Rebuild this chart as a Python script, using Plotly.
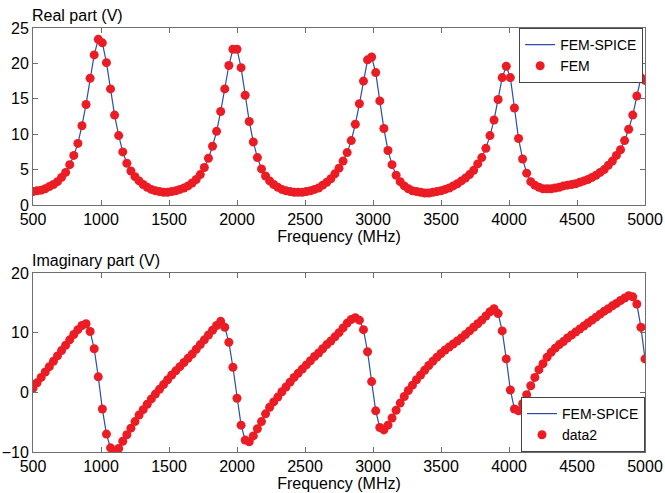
import plotly.graph_objects as go
from plotly.subplots import make_subplots

freq_mhz = list(range(500, 5001, 30))

real_v = [1.9, 2.0, 2.1, 2.3, 2.6, 2.9, 3.3, 3.9, 4.6, 5.7,
          7.0, 8.7, 11.2, 14.2, 17.9, 21.2, 23.4, 22.9, 20.1, 16.4,
          12.7, 9.8, 7.5, 5.9, 4.8, 4.0, 3.4, 2.9, 2.5, 2.2,
          2.0, 1.9, 1.8, 1.8, 1.9, 2.0, 2.2, 2.4, 2.7, 3.1,
          3.6, 4.3, 5.3, 6.6, 8.3, 10.4, 13.2, 16.4, 19.7, 22.0,
          22.0, 19.4, 15.5, 11.8, 8.9, 6.7, 5.1, 4.1, 3.4, 2.9,
          2.5, 2.2, 2.0, 1.9, 1.8, 1.8, 1.8, 1.9, 2.0, 2.2,
          2.4, 2.8, 3.2, 3.7, 4.4, 5.2, 6.2, 7.4, 9.1, 11.4,
          14.3, 17.5, 20.5, 20.9, 18.7, 14.7, 10.8, 7.7, 5.7, 4.2,
          3.3, 2.7, 2.3, 2.0, 1.9, 1.8, 1.7, 1.7, 1.8, 1.9,
          2.0, 2.2, 2.4, 2.7, 3.0, 3.4, 3.8, 4.3, 4.9, 5.8,
          6.7, 8.0, 9.8, 12.0, 14.9, 18.0, 19.6, 18.0, 13.7, 9.4,
          6.5, 4.5, 3.3, 2.8, 2.5, 2.3, 2.3, 2.3, 2.4, 2.5,
          2.7, 2.8, 2.9, 3.0, 3.2, 3.4, 3.6, 3.9, 4.2, 4.6,
          5.0, 5.6, 6.2, 7.0, 7.8, 9.1, 10.7, 12.7, 15.4, 18.0,
          17.6]

imag_v = [0.7, 1.6, 2.5, 3.4, 4.3, 5.2, 6.1, 7.0, 7.9, 8.8,
          9.7, 10.5, 11.2, 11.5, 10.2, 7.3, 2.6, -2.8, -7.0, -9.3,
          -10.0, -9.4, -8.2, -7.1, -6.0, -4.9, -3.8, -2.9, -2.0, -1.1,
          -0.3, 0.5, 1.3, 2.1, 2.9, 3.6, 4.3, 5.0, 5.7, 6.4,
          7.2, 8.0, 8.8, 9.6, 10.4, 11.2, 11.9, 10.9, 8.4, 4.2,
          -1.0, -5.5, -8.0, -8.3, -7.3, -6.1, -4.9, -3.6, -2.5, -1.6,
          -0.8, 0.1, 0.9, 1.7, 2.5, 3.2, 3.9, 4.6, 5.3, 6.0,
          6.6, 7.3, 8.0, 8.6, 9.3, 10.0, 10.8, 11.6, 12.2, 12.5,
          12.1, 10.5, 6.8, 1.8, -3.1, -5.9, -6.3, -5.5, -4.3, -3.0,
          -1.8, -0.7, 0.3, 1.2, 2.1, 2.9, 3.7, 4.5, 5.2, 5.9,
          6.5, 7.1, 7.6, 8.1, 8.6, 9.1, 9.7, 10.3, 10.9, 11.5,
          12.1, 12.8, 13.5, 14.0, 13.2, 10.3, 5.6, 0.4, -2.8, -3.1,
          -1.9, -0.4, 1.1, 2.5, 3.8, 4.8, 5.9, 6.7, 7.4, 8.0,
          8.5, 9.1, 9.6, 10.1, 10.6, 11.1, 11.6, 12.1, 12.6, 13.1,
          13.6, 14.0, 14.5, 14.9, 15.4, 15.8, 16.2, 16.0, 14.8, 10.9,
          5.6]

x_ticks = [500, 1000, 1500, 2000, 2500, 3000, 3500, 4000, 4500, 5000]
real_ticks = [0, 5, 10, 15, 20, 25]
imag_ticks = [-10, 0, 10, 20]

RED = "#EC1C24"
BLUE = "#2a4ea8"
AXC = "#6e6e6e"
FONT = "Liberation Sans, Arial, sans-serif"

fig = make_subplots(rows=2, cols=1, vertical_spacing=0.1)

fig.add_trace(go.Scatter(x=freq_mhz, y=real_v, mode="lines", name="FEM-SPICE",
                         line=dict(color=BLUE, width=1.2), legend="legend"), row=1, col=1)
fig.add_trace(go.Scatter(x=freq_mhz, y=real_v, mode="markers", name="FEM",
                         marker=dict(color=RED, size=9, line=dict(width=0)),
                         legend="legend"), row=1, col=1)
fig.add_trace(go.Scatter(x=freq_mhz, y=imag_v, mode="lines", name="FEM-SPICE",
                         line=dict(color=BLUE, width=1.2), legend="legend2"), row=2, col=1)
fig.add_trace(go.Scatter(x=freq_mhz, y=imag_v, mode="markers", name="data2",
                         marker=dict(color=RED, size=9, line=dict(width=0)),
                         legend="legend2"), row=2, col=1)

axis_common = dict(showline=True, linecolor=AXC, linewidth=1, mirror="ticks",
                   ticks="inside", ticklen=5, tickcolor=AXC, showgrid=False,
                   zeroline=False, automargin=False,
                   tickfont=dict(size=16, color="black", family=FONT))

top_dom = [(452 - 205) / 424, 1.0]
bot_dom = [0.0, (452 - 273) / 424]

legend_common = dict(xanchor="right", bordercolor="#444444", borderwidth=1,
                     bgcolor="white", font=dict(size=14, family=FONT),
                     tracegroupgap=0, itemwidth=30)

fig.update_layout(
    width=665, height=493,
    margin=dict(l=33, r=20, t=28, b=41),
    paper_bgcolor="white", plot_bgcolor="white",
    font=dict(family=FONT, size=16, color="black"),
    showlegend=True,
    xaxis=dict(axis_common, range=[500, 5000], tickvals=x_ticks, ticklabelstandoff=0,
               title=dict(text="Frequency (MHz)", standoff=0, font=dict(size=16))),
    yaxis=dict(axis_common, range=[0, 25], tickvals=real_ticks, domain=top_dom),
    xaxis2=dict(axis_common, range=[500, 5000], tickvals=x_ticks, ticklabelstandoff=0,
                title=dict(text="Frequency (MHz)", standoff=0, font=dict(size=16))),
    yaxis2=dict(axis_common, range=[-10, 20], tickvals=imag_ticks, domain=bot_dom),
    legend=dict(legend_common, x=0.997, y=1.0, yanchor="top"),
    legend2=dict(legend_common, x=1.0, y=0.0, yanchor="bottom"),
)

fig.add_annotation(text="Real part (V)", xref="paper", yref="paper",
                   x=-0.005, y=1.0, yshift=2, xanchor="left", yanchor="bottom",
                   showarrow=False, font=dict(size=16, family=FONT))
fig.add_annotation(text="Imaginary part (V)", xref="paper", yref="paper",
                   x=-0.005, y=bot_dom[1], yshift=2, xanchor="left", yanchor="bottom",
                   showarrow=False, font=dict(size=16, family=FONT))

fig.write_html("out.html")
